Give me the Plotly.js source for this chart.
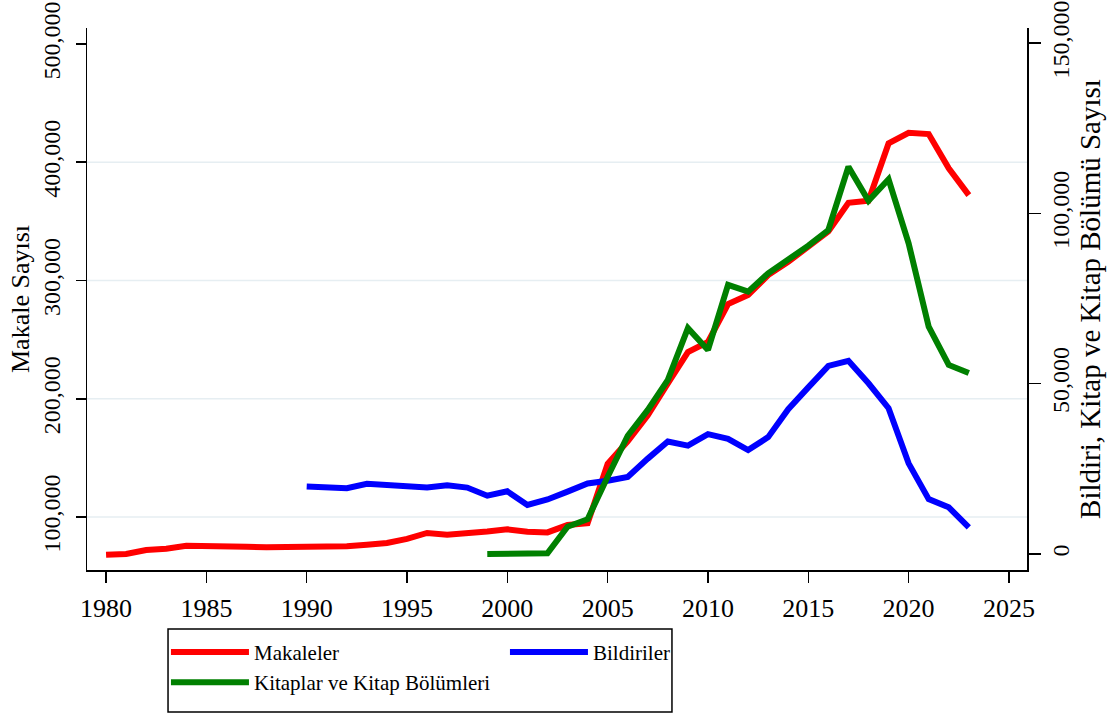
<!DOCTYPE html>
<html>
<head>
<meta charset="utf-8">
<script src="https://cdn.plot.ly/plotly-3.0.1.min.js"></script>
<style>html,body{margin:0;padding:0;background:#fff;}#chart{width:1112px;height:715px;}</style>
</head>
<body>
<div id="chart"></div>
<script>
// Makaleler (left axis), 1980-2023
const yearsMakale = [1980,1981,1982,1983,1984,1985,1986,1987,1988,1989,1990,1991,1992,1993,1994,1995,1996,1997,1998,1999,2000,2001,2002,2003,2004,2005,2006,2007,2008,2009,2010,2011,2012,2013,2014,2015,2016,2017,2018,2019,2020,2021,2022,2023];
const makaleler = [68000,68700,72100,73200,75700,75700,75700,74900,74400,74400,74400,74400,75200,76500,78000,81500,86500,85000,86000,87800,89600,87600,87000,93200,94700,145000,164000,186000,213000,239500,248000,280000,287700,304600,315800,328500,341500,365700,367400,415900,424900,423800,394800,372200];

// Bildiriler (right axis), 1990-2023
const yearsBildiri = [1990,1991,1992,1993,1994,1995,1996,1997,1998,1999,2000,2001,2002,2003,2004,2005,2006,2007,2008,2009,2010,2011,2012,2013,2014,2015,2016,2017,2018,2019,2020,2021,2022,2023];
const bildiriler = [19800,19600,19300,20600,20200,19500,19500,20200,19500,17100,18400,14400,16000,18300,20700,21500,22600,28000,33000,31800,35200,33800,30500,34300,42500,48900,55200,56700,50100,42800,26600,16100,13700,7800];

// Kitaplar ve Kitap Bölümleri (right axis), 1999-2023
const yearsKitap = [1999,2000,2001,2002,2003,2004,2005,2006,2007,2008,2009,2010,2011,2012,2013,2014,2015,2016,2017,2018,2019,2020,2021,2022,2023];
const kitaplar = [0,100,150,200,8000,10200,22700,34700,42300,51100,66300,59900,79000,77000,82400,86300,90500,95100,113700,103700,110000,91200,66700,55500,53100];

const xTicks = [1980,1985,1990,1995,2000,2005,2010,2015,2020,2025];
const leftTicks = [100000,200000,300000,400000,500000];
const leftGrid = [100000,200000,300000,400000];
const rightTicks = [0,50000,100000,150000];

const FONT = 'Liberation Serif, Times New Roman, serif';

const traces = [
  {x: yearsBildiri, y: bildiriler, name: 'Bildiriler', type: 'scatter', mode: 'lines', yaxis: 'y2',
   line: {color: '#0000FF', width: 6}, legendrank: 2},
  {x: yearsMakale, y: makaleler, name: 'Makaleler', type: 'scatter', mode: 'lines', yaxis: 'y',
   line: {color: '#FF0000', width: 6}, legendrank: 1},
  {x: yearsKitap, y: kitaplar, name: 'Kitaplar ve Kitap Bölümleri', type: 'scatter', mode: 'lines', yaxis: 'y2',
   line: {color: '#008000', width: 6}, legendrank: 3}
];

const shapes = leftGrid.map(v => ({type: 'line', xref: 'paper', x0: 0, x1: 1, yref: 'y', y0: v, y1: v,
  line: {color: '#E6EEF2', width: 1.5}, layer: 'below'}));
// legend frame
shapes.push({type: 'rect', xref: 'paper', yref: 'paper', x0: 0.0862, x1: 0.6223, y0: -0.1089, y1: -0.262,
  line: {color: '#000', width: 1.5}, fillcolor: 'rgba(0,0,0,0)', layer: 'above'});

const layout = {
  width: 1112, height: 715,
  margin: {l: 87, r: 85, t: 28, b: 145, pad: 0, autoexpand: false},
  paper_bgcolor: '#fff', plot_bgcolor: '#fff',
  font: {family: FONT, size: 23, color: '#000'},
  showlegend: true,
  shapes: shapes,
  xaxis: {
    range: [1979.05, 2025.9], tickvals: xTicks, ticktext: xTicks.map(String), automargin: false,
    showgrid: false, zeroline: false, showline: true, linecolor: '#000', linewidth: 1.5,
    ticks: 'outside', ticklen: 11, tickwidth: 1.5, tickcolor: '#000',
    tickfont: {family: FONT, size: 26}, ticklabelstandoff: 3
  },
  yaxis: {
    range: [55200, 513500], tickvals: leftTicks, tickformat: ',d', automargin: false,
    showgrid: false, zeroline: false, showline: true, linecolor: '#000', linewidth: 1.5,
    ticks: 'outside', ticklen: 10, tickwidth: 1.5, tickcolor: '#000', tickangle: -90,
    tickfont: {family: FONT, size: 24}, ticklabelstandoff: 6,
    title: {text: 'Makale Sayısı', font: {family: FONT, size: 26}, standoff: 2}
  },
  yaxis2: {
    range: [-4700, 154400], tickvals: rightTicks, tickformat: ',d', automargin: false,
    overlaying: 'y', side: 'right',
    showgrid: false, zeroline: false, showline: true, linecolor: '#000', linewidth: 1.5,
    ticks: 'outside', ticklen: 12, tickwidth: 1.5, tickcolor: '#000', tickangle: -90,
    tickfont: {family: FONT, size: 24}, ticklabelstandoff: 0,
    title: {text: 'Bildiri, Kitap ve Kitap Bölümü Sayısı', font: {family: FONT, size: 29}, standoff: 0}
  },
  legend: {
    orientation: 'h', x: 0.084, xanchor: 'left', y: -0.114, yanchor: 'top',
    borderwidth: 0, bgcolor: 'rgba(0,0,0,0)',
    font: {family: FONT, size: 21, color: '#000'},
    entrywidth: 246, itemwidth: 78, traceorder: 'normal'
  }
};

Plotly.newPlot('chart', traces, layout, {displayModeBar: false, staticPlot: true});
</script>
</body>
</html>
